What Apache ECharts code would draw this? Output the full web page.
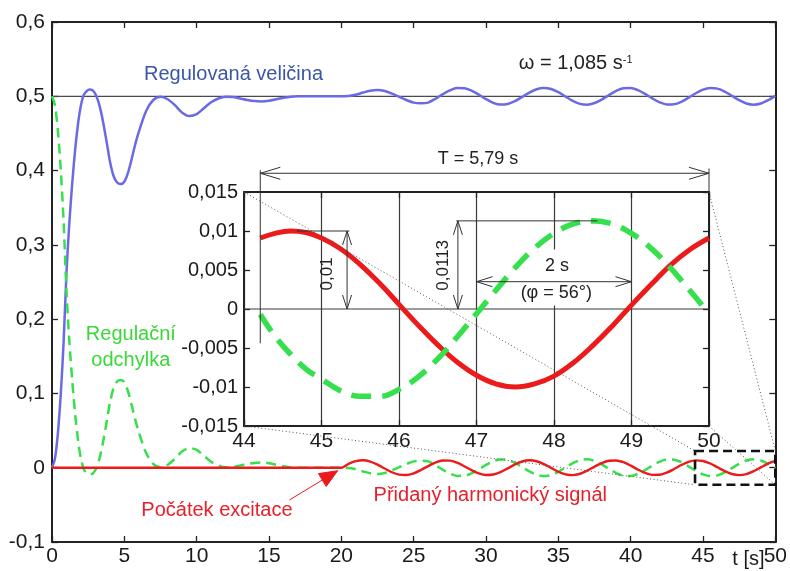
<!DOCTYPE html>
<html><head><meta charset="utf-8">
<script src="https://cdn.jsdelivr.net/npm/echarts@6/dist/echarts.min.js"></script>
<style>html,body{margin:0;padding:0;background:#fff}#c{width:790px;height:571px}</style>
</head><body><div id="c"></div>
<script>
// ---------- data ----------
const tMain = [0,0.2,0.4,0.6,0.8,1,1.2,1.4,1.6,1.8,2,2.2,2.4,2.6,2.8,3,3.2,3.4,3.6,3.8,4,
  4.25,4.5,4.75,5,5.25,5.5,5.75,6,
  6.5,7,7.5,8,8.5,9,9.5,10,10.5,11,11.5,12,12.5,13,13.5,14,14.5,15,15.5,16,16.5,17,17.5,18,18.5,19,19.5,20,
  20.5,21,21.5,22,22.5,23,23.5,24,24.5,25,25.5,26,
  26.5,27,27.5,28,28.5,29,29.5,30,30.5,31,31.5,32,32.5,33,33.5,34,34.5,35,35.5,36,36.5,37,37.5,38,38.5,39,39.5,40,
  40.5,41,41.5,42,42.5,43,43.5,44,44.5,45,45.5,46,46.5,47,47.5,48,48.5,49,49.5,50];
const blueY = [0,0.012,0.045,0.097,0.168,0.262,0.33,0.383,0.428,0.463,0.488,0.502,0.507,0.509,0.508,0.503,0.493,0.478,0.458,0.436,0.413,
  0.393,0.384,0.382,0.385,0.397,0.415,0.435,0.452,
  0.48,0.495,0.4995,0.496,0.488,0.478,0.4735,0.476,0.484,0.492,0.497,0.4995,0.499,0.497,0.495,0.4935,0.493,0.494,0.496,0.498,0.4995,0.5,0.5,0.5,0.5,0.5,0.5,0.5,
  0.5005,0.502,0.505,0.5075,0.5085,0.5072,0.5035,0.4992,0.495,0.4915,0.4905,0.4915,
  0.4966,0.5026,0.5079,0.511,0.5108,0.5076,0.5022,0.4962,0.4912,0.4888,0.4896,0.4934,0.4991,0.505,0.5095,0.5113,0.5098,0.5055,0.4996,0.4939,0.4898,0.4887,0.4909,0.4956,0.5016,0.5072,0.5107,0.5111,
  0.5083,0.5032,0.4971,0.4919,0.489,0.4893,0.4926,0.4981,0.5041,0.509,0.5112,0.5103,0.5064,0.5006,0.4947,0.4903,0.4887,0.4903,0.4947,0.5006];
const greenY = [0.5,0.488,0.455,0.403,0.332,0.238,0.17,0.117,0.072,0.037,0.012,-0.002,-0.007,-0.009,-0.008,-0.003,0.007,0.022,0.042,0.064,0.087,
  0.107,0.116,0.118,0.115,0.103,0.085,0.065,0.048,
  0.02,0.005,0.0005,0.004,0.012,0.022,0.0265,0.024,0.016,0.008,0.003,0.0005,0.001,0.003,0.005,0.0065,0.007,0.006,0.004,0.002,0.0005,0,0,0,0,0,0,0,
  -0.0005,-0.002,-0.005,-0.0075,-0.0085,-0.0072,-0.0035,0.0008,0.005,0.0085,0.0095,0.0085,
  0.0034,-0.0026,-0.0079,-0.011,-0.0108,-0.0076,-0.0022,0.0038,0.0088,0.0112,0.0104,0.0066,0.0009,-0.005,-0.0095,-0.0113,-0.0098,-0.0055,0.0004,0.0061,0.0102,0.0113,0.0091,0.0044,-0.0016,-0.0072,-0.0107,-0.0111,
  -0.0083,-0.0032,0.0029,0.0081,0.011,0.0107,0.0074,0.0019,-0.0041,-0.009,-0.0112,-0.0103,-0.0064,-0.0006,0.0053,0.0097,0.0113,0.0097,0.0053,-0.0006];
const tRed = [0,20,20.5,21,21.5,22,22.5,23,23.5,24,24.5,25,25.5,26,26.5,27,27.5,28,28.5,29,29.5,30,30.5,31,31.5,32,32.5,33,33.5,34,34.5,35,
  35.5,36,36.5,37,37.5,38,38.5,39,39.5,40,40.5,41,41.5,42,42.5,43,43.5,44,44.5,45,45.5,46,46.5,47,47.5,48,48.5,49,49.5,50];
const redY = [0,0,0.0052,0.0088,0.01,0.0083,0.0042,-0.0011,-0.0061,-0.0093,-0.0099,-0.0076,-0.0031,0.0022,0.007,0.0097,0.0096,0.0068,0.002,-0.0033,-0.0077,-0.0099,-0.0092,-0.0059,-0.0009,0.0044,0.0084,0.01,0.0087,0.0049,-0.0002,-0.0054,
  -0.0089,-0.01,-0.0081,-0.0039,0.0014,0.0063,0.0094,0.0098,0.0074,0.0029,-0.0025,-0.0071,-0.0097,-0.0095,-0.0066,-0.0018,0.0036,0.0079,0.0099,0.0091,0.0057,0.0006,-0.0046,-0.0085,-0.01,-0.0086,-0.0047,0.0005,0.0056,0.0091];
const tInset = [44.21,44.4,44.6,44.8,45,45.25,45.5,45.75,46,46.25,46.5,46.75,47,47.25,47.5,47.75,48,48.25,48.5,48.75,49,49.25,49.5,49.75,50];
const redInset = [0.0091,0.0097,0.01,0.0098,0.0091,0.0077,0.0057,0.0033,0.0006,-0.0021,-0.0046,-0.0068,-0.0085,-0.0096,-0.01,-0.0096,-0.0086,-0.0069,-0.0047,-0.0022,0.0005,0.0031,0.0056,0.0076,0.0091];
const greenInset = [-0.0007,-0.0035,-0.0058,-0.0077,-0.009,-0.0105,-0.0112,-0.0112,-0.0103,-0.0087,-0.0064,-0.0036,-0.0006,0.0024,0.0053,0.0078,0.0097,0.0109,0.0113,0.0109,0.0097,0.0078,0.0053,0.0024,-0.0006];
const setpoint = 0.5;
const zoomBoxT = [44.45, 50];
const zoomBoxY = [-0.023, 0.0225];
const periodT = [44.21, 50];
const phaseT = [47, 49];

// ---------- styling ----------
const FONT = '"Liberation Sans", Arial, Helvetica, sans-serif';
const AX = '#222';
const BLUE = '#6a6ae4', GREEN = '#35e04c', RED = '#ec1a1a';
const fmt = v => parseFloat(v.toFixed(4)).toString().replace('.', ',');

function xAx(grid, min, max, iv, pos, labels, split, lsize, lmargin) {
  return {type:'value', gridIndex:grid, min:min, max:max, interval:iv, position:pos,
    axisLine:{show:true, onZero:false, lineStyle:{color:AX, width:2}},
    axisTick:{show:true, inside:true, length:6, lineStyle:{color:AX, width:1.3}},
    axisLabel:{show:labels, fontSize:lsize, fontFamily:FONT, color:'#1a1a1a', margin:lmargin, formatter:fmt},
    splitLine:{show:split, lineStyle:{color:'#3a3a3a', width:1.2}}};
}
function yAx(grid, min, max, iv, pos, labels, lsize, lmargin) {
  return {type:'value', gridIndex:grid, min:min, max:max, interval:iv, position:pos,
    axisLine:{show:true, onZero:false, lineStyle:{color:AX, width:2}},
    axisTick:{show:true, inside:true, length:6, lineStyle:{color:AX, width:1.3}},
    axisLabel:{show:labels, fontSize:lsize, fontFamily:FONT, color:'#1a1a1a', margin:lmargin, formatter:fmt},
    splitLine:{show:false}};
}
const zip = (a, b) => a.map((t, i) => [t, b[i]]);

const chart = echarts.init(document.getElementById('c'), null, {renderer:'canvas'});
chart.setOption({
  animation:false,
  backgroundColor:'#fff',
  grid:[
    {left:52, top:22, right:13, bottom:29},
    {left:244, top:192, width:465, height:234, show:true, backgroundColor:'#fff', borderWidth:0}
  ],
  xAxis:[
    xAx(0, 0, 50, 5, 'bottom', true, false, 21, 4),
    xAx(0, 0, 50, 5, 'top', false, false, 21, 4),
    xAx(1, 44, 50, 1, 'bottom', true, true, 21, 5),
    xAx(1, 44, 50, 1, 'top', false, false, 21, 5)
  ],
  yAxis:[
    yAx(0, -0.1, 0.6, 0.1, 'left', true, 21, 7),
    yAx(0, -0.1, 0.6, 0.1, 'right', false, 21, 7),
    yAx(1, -0.015, 0.015, 0.005, 'left', true, 20, 6),
    yAx(1, -0.015, 0.015, 0.005, 'right', false, 20, 6)
  ],
  series:[
    {type:'line', xAxisIndex:0, yAxisIndex:0, data:[[0, setpoint],[50, setpoint]], symbol:'none', silent:true,
      lineStyle:{color:'#4a4a4a', width:1.2}, z:1},
    {type:'line', xAxisIndex:0, yAxisIndex:0, data:zip(tMain, blueY), symbol:'none', smooth:0.3, silent:true,
      lineStyle:{color:BLUE, width:2.5}, z:2},
    {type:'line', xAxisIndex:0, yAxisIndex:0, data:zip(tMain, greenY), symbol:'none', smooth:0.3, silent:true,
      lineStyle:{color:GREEN, width:2.5, type:[10,6]}, z:3},
    {type:'line', xAxisIndex:0, yAxisIndex:0, data:zip(tRed, redY), symbol:'none', smooth:0.3, silent:true,
      lineStyle:{color:RED, width:2.4}, z:4},
    {type:'line', xAxisIndex:2, yAxisIndex:2, data:[[44,0],[50,0]], symbol:'none', silent:true,
      lineStyle:{color:'#3a3a3a', width:1.2}, z:2},
    {type:'line', xAxisIndex:2, yAxisIndex:2, data:zip(tInset, redInset), symbol:'none', smooth:0.4, silent:true,
      lineStyle:{color:RED, width:5}, z:3},
    {type:'line', xAxisIndex:2, yAxisIndex:2, data:zip(tInset, greenInset), symbol:'none', smooth:0.4, silent:true,
      lineStyle:{color:GREEN, width:5.5, type:[20,11]}, z:4}
  ]
});

// ---------- annotations (positions via the chart's own scales) ----------
const P = (t, v) => chart.convertToPixel({seriesIndex:1}, [t, v]);
const Q = (t, v) => chart.convertToPixel({seriesIndex:5}, [t, v]);
const G = [];
const DIM = '#333';
function line(a, b, stroke, w, dash, z) {
  G.push({type:'line', silent:true, z:z||20, shape:{x1:a[0], y1:a[1], x2:b[0], y2:b[1]},
    style:{stroke:stroke, lineWidth:w, lineDash:dash||null}});
}
function head(tip, from, len, half, stroke) {
  const dx = from[0]-tip[0], dy = from[1]-tip[1], L = Math.hypot(dx, dy), ux = dx/L, uy = dy/L;
  const bx = tip[0]+ux*len, by = tip[1]+uy*len;
  G.push({type:'polyline', silent:true, z:20, shape:{points:[[bx-uy*half, by+ux*half], tip, [bx+uy*half, by-ux*half]]},
    style:{stroke:stroke||DIM, lineWidth:1, fill:'none'}});
}
function text(p, s, size, color, extra) {
  G.push(Object.assign({type:'text', silent:true, z:18, x:p[0], y:p[1],
    style:Object.assign({text:s, fontSize:size, fontFamily:FONT, fill:color, align:'center', verticalAlign:'middle'}, (extra&&extra.style)||{})},
    extra&&extra.el||{}));
}

// zoom box and connecting dotted lines
const bTL = P(zoomBoxT[0], zoomBoxY[1]), bTR = P(zoomBoxT[1], zoomBoxY[1]);
const bBL = P(zoomBoxT[0], zoomBoxY[0]), bBR = P(zoomBoxT[1], zoomBoxY[0]);
const iTL = Q(44, 0.015), iTR = Q(50, 0.015), iBL = Q(44, -0.015), iBR = Q(50, -0.015);
const DOT = [1, 2.5];
line(iTL, bTL, '#555', 1, DOT, 12);
line(iBL, bBL, '#555', 1, DOT, 12);
line(iTR, bTR, '#555', 1, DOT, 12);
line(iBR, bBR, '#555', 1, DOT, 12);
G.push({type:'polygon', silent:true, z:13, shape:{points:[bTL, bTR, bBR, bBL]},
  style:{fill:'none', stroke:'#111', lineWidth:2.6, lineDash:[9,5]}});

// period dimension
const yT = 0.0174;
const tA = Q(periodT[0], yT), tB = Q(periodT[1], yT);
line(tA, tB, DIM, 1);
head(tA, tB, 20, 6); head(tB, tA, 20, 6);
line(Q(periodT[0], 0.0178), Q(periodT[0], -0.0044), DIM, 1);
line(Q(periodT[1], 0.0180), Q(periodT[1], 0.015), DIM, 1);
text(Q(47.02, 0.0192), 'T = 5,79 s', 18, '#222');

// amplitude of harmonic signal
line(Q(44.68, 0.01), Q(45.36, 0.01), DIM, 1);
const a1 = Q(45.33, 0.01), a0 = Q(45.33, 0);
line(a1, a0, DIM, 1); head(a1, a0, 14, 4.5); head(a0, a1, 14, 4.5);
text(Q(45.08, 0.0045), '0,01', 17, '#222', {el:{rotation:Math.PI/2}});

// amplitude of error
line(Q(46.74, 0.0113), Q(48.56, 0.0113), DIM, 1);
const c1 = Q(46.76, 0.0113), c0 = Q(46.76, 0);
line(c1, c0, DIM, 1); head(c1, c0, 14, 4.5); head(c0, c1, 14, 4.5);
text(Q(46.57, 0.0056), '0,0113', 17, '#222', {el:{rotation:Math.PI/2}});

// phase shift
text(Q(48.04, 0.0055), '2 s', 18, '#222', {style:{backgroundColor:'#fff', padding:[12,3,3,3]}});
text(Q(48.03, 0.0021), '(φ = 56°)', 18, '#222', {style:{backgroundColor:'#fff', padding:[3,3,5,3]}});
const pA = Q(phaseT[0], 0.0035), pB = Q(phaseT[1], 0.0035);
line(pA, pB, DIM, 1); head(pA, pB, 16, 5); head(pB, pA, 16, 5);

// main chart labels
text(P(12.55, 0.530), 'Regulovaná veličina', 20, '#3b56a6');
G.push({type:'text', silent:true, z:18, x:P(36.2, 0.5435)[0], y:P(36.2, 0.5435)[1],
  style:{text:'{a|ω = 1,085 s}{b|-1}', align:'center', verticalAlign:'middle', fill:'#222',
    rich:{a:{fontSize:20, fontFamily:FONT, fill:'#222'}, b:{fontSize:11, fontFamily:FONT, fill:'#222', verticalAlign:'top'}}}});
text(P(5.45, 0.1787), 'Regulační', 20, '#3ad83a');
text(P(5.45, 0.1437), 'odchylka', 20, '#3ad83a');
text(P(11.4, -0.058), 'Počátek excitace', 20, '#e8202a');
text(P(30.3, -0.038), 'Přidaný harmonický signál', 20, '#e8202a');
text(P(48.14, -0.124), 't [s]', 20, '#1a1a1a');

// excitation arrow
const s0 = P(16.41, -0.0435), tip = P(19.75, -0.004);
{
  const dx = s0[0]-tip[0], dy = s0[1]-tip[1], L = Math.hypot(dx, dy), ux = dx/L, uy = dy/L;
  const len = 18, half = 7.5, bx = tip[0]+ux*len, by = tip[1]+uy*len;
  line(s0, [bx, by], RED, 1);
  G.push({type:'polygon', silent:true, z:20, shape:{points:[tip, [bx-uy*half, by+ux*half], [bx+uy*half, by-ux*half]]},
    style:{fill:RED, stroke:RED, lineWidth:1}});
}

chart.setOption({graphic:{elements:G}});
</script>
</body></html>
